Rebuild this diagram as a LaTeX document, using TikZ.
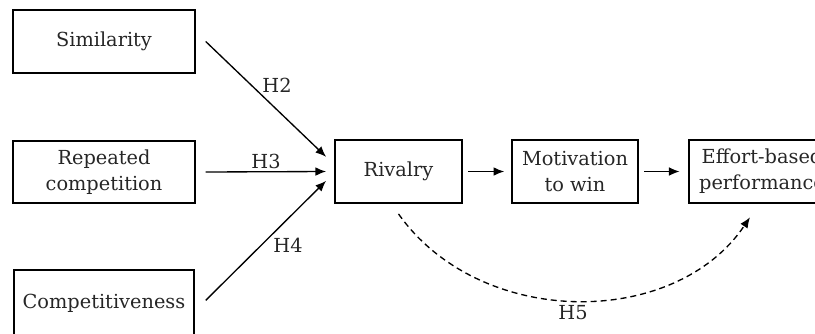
\documentclass[tikz,border=0pt]{standalone}
\usepackage{fontspec}
\setmainfont{DejaVu Serif}
\usetikzlibrary{arrows.meta}
\tikzset{
  box/.style={draw, line width=1.6pt, minimum height=47pt, align=center, inner sep=0pt},
  hlabel/.style={inner sep=0pt},
}
\begin{document}
\begin{tikzpicture}[>={Latex[length=8pt,width=6.5pt]}, x=0.75pt, y=-0.75pt, line width=1pt,
  font=\fontsize{14.5}{19.5}\selectfont, text=black!85]
\useasboundingbox (0,0) rectangle (815,333);
% boxes
\node[box, minimum width=136pt] (sim) at (104,41.5) {Similarity};
\node[box, minimum width=136pt] (rep) at (104,172) {Repeated\\competition};
\node[box, minimum width=135pt, minimum height=49pt] (comp) at (104,303) {Competitiveness};
\node[box, minimum width=95pt] (riv) at (398.5,171.5) {Rivalry};
\node[box, minimum width=94.5pt] (mot) at (575,171.5) {Motivation\\to win};
\node[box, minimum width=110pt] (eff) at (762,171.5) {Effort-based\\performance};
% arrows into rivalry
\draw[->] ([xshift=7.5pt]sim.east) -- ([xshift=-6pt,yshift=11pt]riv.west);
\draw[->] ([xshift=7.5pt]rep.east) -- ([xshift=-6pt]riv.west);
\draw[->] ([xshift=8pt,yshift=2pt]comp.east) -- ([xshift=-6pt,yshift=-7pt]riv.west);
% chain
\draw[->] ([xshift=4pt]riv.east) -- ([xshift=-5pt]mot.west);
\draw[->] ([xshift=4pt]mot.east) -- ([xshift=-6pt]eff.west);
% H5
\coordinate (r5) at ([yshift=-7.5pt]riv.south);
\coordinate (e5) at ([xshift=-9pt,yshift=-10pt]eff.south);
\draw[->, dash pattern=on 4.5pt off 3pt] (r5) .. controls (480,329) and (675,329) .. (e5);
% labels
\node[hlabel] (h2) at (277,85) {H2};
\node[hlabel] (h3) at (266,161) {H3};
\node[hlabel] (h4) at (288,245) {H4};
\node[hlabel] (h5) at (573,313) {H5};
\end{tikzpicture}
\end{document}
